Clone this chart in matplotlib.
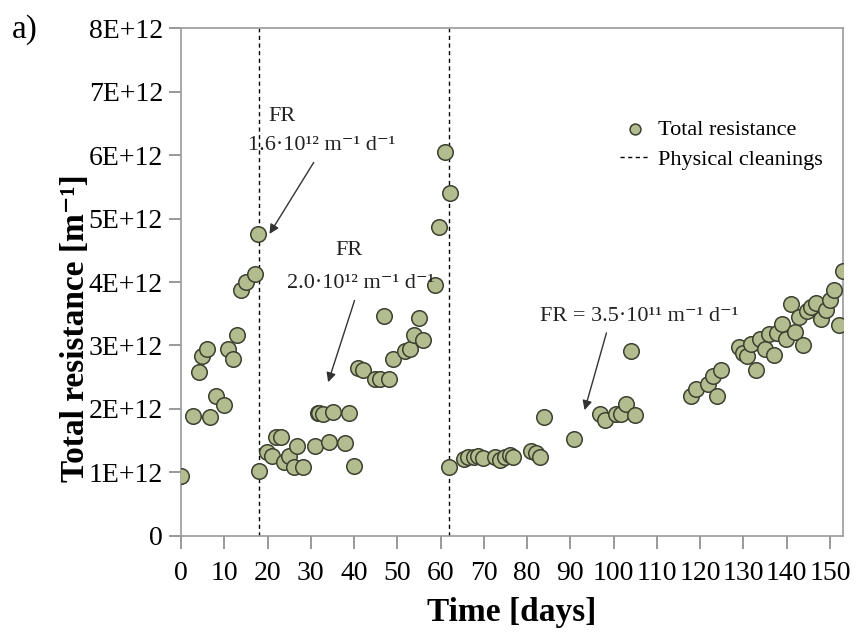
import matplotlib.pyplot as plt

# days and total resistance (in units of 1E+12 m-1)
days = [0, 2.8, 4.1, 4.8, 6.1, 6.8, 8, 10, 10.9, 12, 12.9, 13.8, 15, 17.1, 17.9,
        18, 19.9, 21, 21.9, 23, 23.7, 25, 26, 26.9, 28.1, 30.9, 31.6, 31.8, 32.9, 34.1,
        35.1, 37.9, 38.9, 39.9, 40.8, 42, 44.8, 46, 47, 48, 49, 51.8, 53, 53.9,
        54.9, 56, 58.6, 59.7, 61, 62.2,
        62, 65.3, 66.4, 67.6, 68.7, 69.9, 72.6, 73.7, 74.9, 76, 76.8, 80.8, 82, 83,
        84, 90.9, 96.8, 98, 100.5, 101.8, 102.8, 103.9, 104.9,
        117.9, 119, 121.8, 123, 123.9, 124.9, 128.9, 129.8, 130.9, 131.8, 132.8,
        133.8, 134.9, 135.8, 137, 137.8, 138.9, 139.9, 140.9, 141.9, 142.9, 143.8,
        144.6, 145.7, 146.7, 147.9, 149, 150, 150.9, 152, 152.9]
resistance = [0.95, 1.89, 2.59, 2.83, 2.95, 1.88, 2.2, 2.06, 2.94, 2.78, 3.17, 3.87, 4.0, 4.13, 4.76,
              1.03, 1.33, 1.26, 1.56, 1.56, 1.17, 1.26, 1.09, 1.42, 1.09, 1.42, 1.93, 1.94, 1.92, 1.48,
              1.96, 1.46, 1.93, 1.11, 2.64, 2.61, 2.48, 2.48, 3.46, 2.47, 2.79, 2.91, 2.95, 3.17,
              3.43, 3.08, 3.95, 4.87, 6.04, 5.40,
              1.08, 1.22, 1.24, 1.25, 1.26, 1.23, 1.25, 1.2, 1.24, 1.27, 1.25, 1.34, 1.31, 1.24,
              1.88, 1.52, 1.92, 1.82, 1.92, 1.92, 2.08, 2.92, 1.91,
              2.21, 2.31, 2.40, 2.52, 2.21, 2.61, 2.97, 2.88, 2.84, 3.03, 2.62,
              3.10, 2.94, 3.18, 2.85, 3.19, 3.34, 3.10, 3.65, 3.21, 3.45, 3.01,
              3.55, 3.60, 3.67, 3.42, 3.56, 3.72, 3.87, 3.33, 4.18]
cleanings = [18, 62]
y_ticks = [0, 1, 2, 3, 4, 5, 6, 7, 8]
y_labels = ['0', '1E+12', '2E+12', '3E+12', '4E+12', '5E+12', '6E+12', '7E+12', '8E+12']
x_ticks = list(range(0, 151, 10))

plt.rcParams['font.family'] = ['Liberation Serif', 'DejaVu Serif']

fig = plt.figure(figsize=(8.58, 6.34), dpi=100)
ax = fig.add_axes([0.211, 0.1546, 0.7715, 0.8012])

ax.scatter(days, resistance, s=125, color='#b3bc8e', edgecolor='#3b4030', linewidth=1.1,
           zorder=3, label='Total resistance')
for i, c in enumerate(cleanings):
    ax.axvline(c, color='black', linestyle=(0, (3, 2.5)), linewidth=1.0, zorder=2,
               label='Physical cleanings' if i == 0 else None)

ax.set_xlim(0, 153)
ax.set_ylim(0, 8)
ax.set_xticks(x_ticks)
ax.set_xticklabels([str(t) for t in x_ticks], fontsize=20)
ax.set_yticks(y_ticks)
ax.set_yticklabels(y_labels, fontsize=20)
ax.tick_params(direction='out', length=9, color='#888888', width=1.2, pad=4)
ax.tick_params(axis='x', pad=9)
for s in ax.spines.values():
    s.set_color('#999999')
    s.set_linewidth(1.2)

ax.set_xlabel('Time [days]', fontsize=24, fontweight='bold', labelpad=8)
ax.set_ylabel('Total resistance [m⁻¹]', fontsize=24, fontweight='bold')
ax.yaxis.label.set_verticalalignment('center')
ax.yaxis.set_label_coords(-0.16, 0.41)

arrow = dict(arrowstyle='-|>', color='#333333', lw=1.0, mutation_scale=14)
ax.annotate('', xy=(20.1, 4.72), xytext=(31, 5.92), arrowprops=arrow)
ax.annotate('', xy=(33.8, 2.38), xytext=(40.3, 3.75), arrowprops=arrow)
ax.annotate('', xy=(93.1, 1.94), xytext=(98.5, 3.24), arrowprops=arrow)

txt = dict(fontsize=16, ha='center', va='center', color='#222222')
ax.text(23.3, 6.6, 'FR', **txt)
ax.text(32.5, 6.15, '1.6·10¹² m⁻¹ d⁻¹', **txt)
ax.text(38.8, 4.5, 'FR', **txt)
ax.text(41.5, 3.98, '2.0·10¹² m⁻¹ d⁻¹', **txt)
ax.text(106, 3.45, 'FR = 3.5·10¹¹ m⁻¹ d⁻¹', **txt)

ax.legend(loc='upper right', bbox_to_anchor=(1.0, 0.86), frameon=False, fontsize=16,
          handlelength=1.3, handletextpad=0.4, labelspacing=0.45, markerscale=0.7)

fig.text(0.014, 0.953, 'a)', fontsize=24, ha='left', va='center')

fig.savefig('out.png', dpi=100)
